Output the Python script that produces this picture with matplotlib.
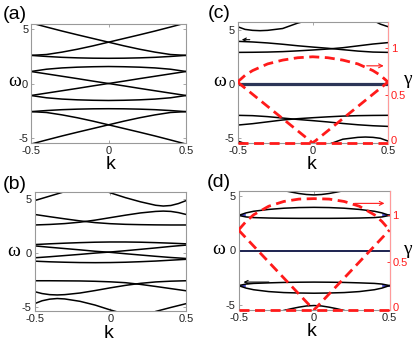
import numpy as np
import matplotlib
matplotlib.use('Agg')
import matplotlib.pyplot as plt
import matplotlib.transforms as mtrans

# k grid shared by most bands
K11 = [-0.5, -0.4, -0.3, -0.2, -0.1, 0.0, 0.1, 0.2, 0.3, 0.4, 0.5]
K13 = [-0.5, -0.4, -0.3, -0.2, -0.1, 0.0, 0.1, 0.2, 0.3, 0.35, 0.4, 0.45, 0.5]
K13R = [-0.5, -0.45, -0.4, -0.35, -0.3, -0.2, -0.1, 0.0, 0.1, 0.2, 0.3, 0.4, 0.5]

# ---- panel (a) ----
a_up1 = [2.60, 2.68, 2.90, 3.17, 3.48, 3.82, 4.16, 4.50, 4.85, 5.22, 5.60]
a_up2 = [5.60, 5.22, 4.85, 4.50, 4.16, 3.82, 3.48, 3.17, 2.90, 2.68, 2.60]
a_flat = [2.60, 2.50, 2.42, 2.37, 2.34, 2.33, 2.34, 2.37, 2.42, 2.50, 2.60]
a_arc = [1.11, 1.32, 1.44, 1.51, 1.55, 1.57, 1.55, 1.51, 1.44, 1.32, 1.11]
a_lin1 = [1.11, 0.89, 0.67, 0.45, 0.22, 0.0, -0.22, -0.45, -0.67, -0.89, -1.11]
a_lin2 = [-1.11, -0.89, -0.67, -0.45, -0.22, 0.0, 0.22, 0.45, 0.67, 0.89, 1.11]
a_arc2 = [-1.11, -1.32, -1.44, -1.51, -1.55, -1.57, -1.55, -1.51, -1.44, -1.32, -1.11]
a_flat2 = [-2.60, -2.50, -2.42, -2.37, -2.34, -2.33, -2.34, -2.37, -2.42, -2.50, -2.60]
a_dn1 = [-2.60, -2.68, -2.90, -3.17, -3.48, -3.82, -4.16, -4.50, -4.85, -5.22, -5.60]
a_dn2 = [-5.60, -5.22, -4.85, -4.50, -4.16, -3.82, -3.48, -3.17, -2.90, -2.68, -2.60]

# ---- panel (b) ----
b_top = [4.85, 5.27, 5.69, 6.10, 6.10, 5.58, 5.13, 4.74, 4.42, 4.35, 4.40, 4.58, 4.85]
b_p = [3.57, 3.36, 3.16, 2.97, 2.81, 2.71, 2.65, 2.62, 2.60, 2.59, 2.59]
b_q = [2.59, 2.64, 2.72, 2.85, 3.04, 3.27, 3.50, 3.71, 3.85, 3.88, 3.85, 3.74, 3.57]
b_arc = [0.77, 0.84, 0.90, 0.95, 0.99, 1.01, 1.01, 0.99, 0.95, 0.90, 0.84]
b_dsc = [0.65, 0.52, 0.40, 0.28, 0.15, 0.05, -0.08, -0.20, -0.32, -0.43, -0.52]
b_asc = [-0.46, -0.36, -0.25, -0.14, -0.02, 0.08, 0.20, 0.33, 0.46, 0.60, 0.72]
b_arc2 = [-0.77, -0.83, -0.87, -0.90, -0.91, -0.90, -0.87, -0.82, -0.76, -0.68, -0.60]
b_f = [-2.59, -2.59, -2.60, -2.61, -2.64, -2.69, -2.77, -2.93, -3.12, -3.32, -3.52]
b_g = [-3.60, -3.78, -3.88, -3.91, -3.88, -3.73, -3.50, -3.25, -3.02, -2.83, -2.70, -2.63, -2.59]
b_bot = [-4.72, -4.45, -4.30, -4.24, -4.28, -4.50, -4.85, -5.30, -5.70, -6.00, -5.44, -5.07, -4.72]

# ---- panel (c) ----
c_top_k = [-0.5, -0.45, -0.4, -0.35, -0.3, -0.2, -0.1, 0.0, 0.1, 0.2, 0.3, 0.4, 0.45, 0.5]
c_top = [5.27, 5.02, 4.93, 4.90, 4.93, 5.10, 5.60, 5.95, 6.20, 6.30, 6.20, 5.85, 5.50, 5.27]
c_u1 = [3.92, 3.86, 3.77, 3.65, 3.51, 3.39, 3.28, 3.15, 3.02, 2.93, 2.90]
c_u2 = [2.90, 2.91, 2.93, 2.97, 3.04, 3.12, 3.21, 3.33, 3.50, 3.67, 3.80]
c_l1 = [-2.90, -2.93, -3.02, -3.15, -3.28, -3.39, -3.51, -3.65, -3.77, -3.86, -3.92]
c_l2 = [-3.80, -3.67, -3.50, -3.33, -3.21, -3.12, -3.04, -2.97, -2.93, -2.91, -2.90]
c_bot_k = [-0.5, -0.45, -0.4, -0.3, -0.2, -0.1, 0.0, 0.1, 0.2, 0.3, 0.35, 0.4, 0.45, 0.5]
c_bot = [-5.27, -5.50, -5.85, -6.20, -6.30, -6.20, -5.95, -5.60, -5.10, -4.93, -4.90, -4.93, -5.02, -5.27]
c_zero = [0.0, 0.0]

# ---- panel (d) ----
d_valley_k = [-0.3, -0.2, -0.15, -0.1, -0.05, 0.0, 0.05, 0.1, 0.15, 0.2, 0.3]
d_valley = [6.0, 5.50, 5.36, 5.23, 5.14, 5.10, 5.14, 5.23, 5.36, 5.50, 6.0]
d_valley2 = [-6.0, -5.50, -5.34, -5.20, -5.09, -5.05, -5.09, -5.20, -5.34, -5.50, -6.0]
d_arc_k = [-0.5, -0.45, -0.4, -0.3, -0.2, -0.1, 0.0, 0.1, 0.2, 0.3, 0.4, 0.45, 0.5]
d_hi = [3.22, 3.45, 3.60, 3.77, 3.88, 3.94, 3.96, 3.94, 3.88, 3.77, 3.60, 3.45, 3.22]
d_lo = [3.22, 3.08, 3.02, 2.98, 2.96, 2.95, 2.95, 2.95, 2.96, 2.98, 3.02, 3.08, 3.22]
d_hi2 = [-3.22, -3.08, -3.02, -2.97, -2.93, -2.91, -2.90, -2.91, -2.93, -2.97, -3.02, -3.08, -3.22]
d_lo2 = [-3.22, -3.45, -3.60, -3.77, -3.86, -3.90, -3.92, -3.90, -3.86, -3.77, -3.60, -3.45, -3.22]
d_edge = 3.22

# ---- gamma (red dashed) ----
G_K = [-0.5, -0.45, -0.4, -0.3, -0.2, -0.1, 0.0, 0.1, 0.2, 0.3, 0.4, 0.45, 0.5]
c_gam_arc = [0.64, 0.71, 0.76, 0.83, 0.87, 0.895, 0.905, 0.895, 0.87, 0.83, 0.76, 0.71, 0.64]
c_gam_v = [0.64, 0.0, 0.64]
d_gam_arc = [0.84, 0.93, 1.00, 1.09, 1.14, 1.165, 1.17, 1.165, 1.14, 1.09, 1.00, 0.93, 0.84]
d_gam_v = [0.84, 0.0, 0.84]
V_K = [-0.5, 0.0, 0.5]
ZERO_K = [-0.5, 0.5]
gam_zero = [0.0, 0.0]

W, H = 415, 342
fig = plt.figure(figsize=(W / 100, H / 100), dpi=100)
TICKFONT = 'Liberation Sans'
SPINE = '#999999'
RED = '#ff1a1a'


def box(l, r, t, b):
    return [l / W, 1 - b / H, (r - l) / W, (b - t) / H]


def fpos(x, y):
    return x / W, 1 - y / H


def style(ax, ylim):
    ax.set_xlim(-0.5, 0.5)
    ax.set_ylim(*ylim)
    ax.set_xticks([-0.5, 0, 0.5])
    ax.set_xticklabels(['-0.5', '0', '0.5'])
    ax.set_yticks([-5, 0, 5])
    ax.set_yticklabels(['-5', '0', '5'])
    ax.tick_params(direction='in', length=2.5, width=0.6, color=SPINE,
                   labelsize=8, pad=2, labelcolor='#222222',
                   top=True, right=True)
    for lab in ax.get_xticklabels() + ax.get_yticklabels():
        lab.set_fontfamily(TICKFONT)
    for s in ax.spines.values():
        s.set_color(SPINE)
        s.set_linewidth(0.8)


def gamma_axis(ax, top):
    g = ax.twinx()
    g.set_ylim(0, top)
    g.set_yticks([0, 0.5, 1])
    g.set_yticklabels(['0', '0.5', '1'])
    g.tick_params(direction='in', length=2.5, width=0.6, color=RED,
                  labelsize=8, pad=2, labelcolor=RED)
    for lab in g.get_yticklabels():
        lab.set_fontfamily(TICKFONT)
    # lift the "0" a touch, as in the original
    lab0 = g.get_yticklabels()[0]
    lab0.set_transform(lab0.get_transform() +
                       mtrans.ScaledTranslation(0, 2.5 / 72, fig.dpi_scale_trans))
    for s in g.spines.values():
        s.set_visible(False)
    g.spines['right'].set_visible(True)
    g.spines['right'].set_color('#ff9a9a')
    g.spines['right'].set_linewidth(0.8)
    return g


blk = dict(color='black', lw=1.1)
red = dict(color=RED, lw=2.0, dashes=(3.6, 2.0))

# (a)
ax_a = fig.add_axes(box(31, 186, 24, 143))
style(ax_a, (-5.5, 5.5))
for band in [a_up1, a_up2, a_flat, a_arc, a_lin1, a_lin2, a_arc2, a_flat2, a_dn1, a_dn2]:
    ax_a.plot(K11, band, **blk)

# (b)
ax_b = fig.add_axes(box(34.5, 186, 191.5, 311))
style(ax_b, (-5.4, 5.7))
ax_b.plot(K13, b_top, **blk)
ax_b.plot(K11, b_p, **blk)
ax_b.plot(K13, b_q, **blk)
for band in [b_arc, b_dsc, b_asc, b_arc2, b_f]:
    ax_b.plot(K11, band, **blk)
ax_b.plot(K13R, b_g, **blk)
ax_b.plot(K13R, b_bot, **blk)

# (c)
ax_c = fig.add_axes(box(237.5, 388, 22, 143))
style(ax_c, (-5.45, 5.7))
ax_c.plot(ZERO_K, c_zero, color='#2c3557', lw=2.3)
ax_c.plot(c_top_k, c_top, **blk)
for band in [c_u1, c_u2, c_l1, c_l2]:
    ax_c.plot(K11, band, **blk)
ax_c.plot(c_bot_k, c_bot, **blk)
ax_c.annotate('', xy=(-0.49, 4.07), xytext=(-0.40, 4.07),
              arrowprops=dict(arrowstyle='->', color='black', lw=0.8, mutation_scale=6))
g_c = gamma_axis(ax_c, 1.27)
g_c.plot(G_K, c_gam_arc, **red)
g_c.plot(V_K, c_gam_v, **red)
g_c.plot(ZERO_K, gam_zero, clip_on=False, **red)
g_c.annotate('', xy=(0.49, 0.81), xytext=(0.34, 0.81),
             arrowprops=dict(arrowstyle='->', color=RED, lw=0.8, mutation_scale=7))

# (d)
ax_d = fig.add_axes(box(238.5, 389.5, 191, 310))
style(ax_d, (-5.46, 5.46))
ax_d.plot(ZERO_K, c_zero, color='#1c2250', lw=1.4)
for kk in ([-0.5, -0.46], [0.46, 0.5]):
    ax_d.plot(kk, [d_edge, d_edge], color='#3030d0', lw=1.2)
    ax_d.plot(kk, [-d_edge, -d_edge], color='#3030d0', lw=1.2)
ax_d.plot(d_valley_k, d_valley, **blk)
ax_d.plot(d_valley_k, d_valley2, **blk)
for band in [d_hi, d_lo, d_hi2, d_lo2]:
    ax_d.plot(d_arc_k, band, **blk)
ax_d.annotate('', xy=(-0.485, -2.9), xytext=(-0.28, -2.9),
              arrowprops=dict(arrowstyle='->', color='black', lw=0.8, mutation_scale=6))
g_d = gamma_axis(ax_d, 1.25)
g_d.plot(G_K, d_gam_arc, **red)
g_d.plot(V_K, d_gam_v, **red)
g_d.plot(ZERO_K, gam_zero, clip_on=False, **red)
g_d.annotate('', xy=(0.485, 1.12), xytext=(0.25, 1.12),
             arrowprops=dict(arrowstyle='->', color=RED, lw=0.8, mutation_scale=7))

# panel letters and axis labels
for lab, (x, y) in zip(['(a)', '(b)', '(c)', '(d)'],
                       [(3, 19), (3, 189), (208, 18), (207, 187)]):
    fig.text(*fpos(x, y), lab, fontsize=14, family=TICKFONT, va='baseline', ha='left')

for (x, y) in [(15, 82), (14, 252), (220, 82), (219, 250)]:
    fig.text(*fpos(x, y), 'ω', fontsize=14, family='Liberation Serif', va='center', ha='center')
for (x, y) in [(111, 169), (109, 338), (312, 169), (312, 336)]:
    fig.text(*fpos(x, y), 'k', fontsize=14, family=TICKFONT, va='baseline', ha='center')
for (x, y) in [(407, 80), (407, 250)]:
    fig.text(*fpos(x, y), 'γ', fontsize=14, family='Liberation Serif', va='center', ha='center')

fig.savefig('out.png', dpi=100)
